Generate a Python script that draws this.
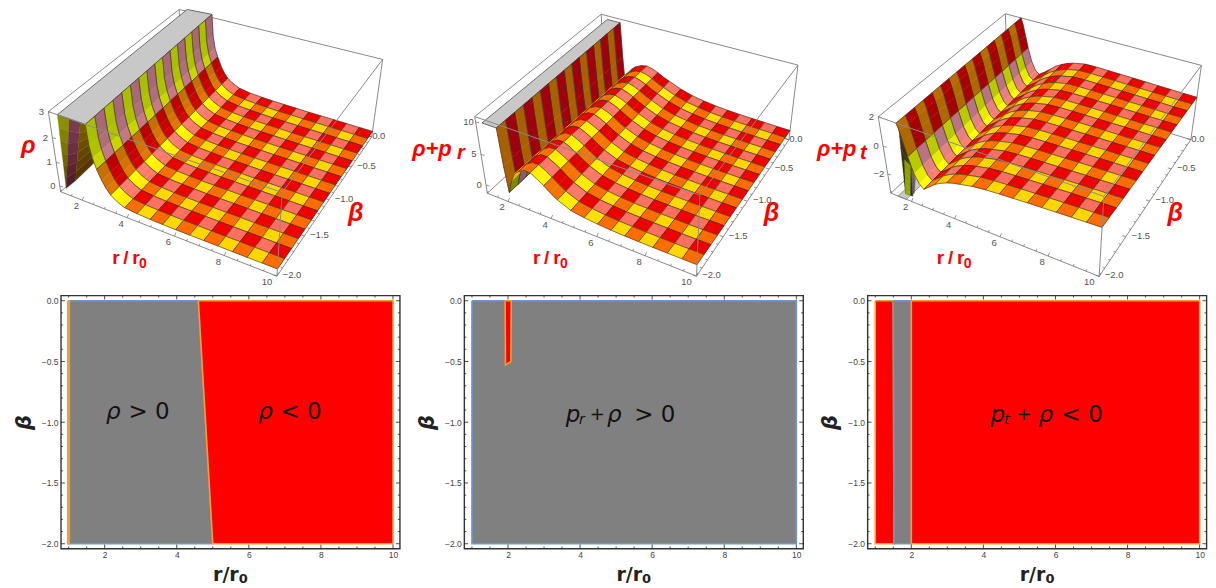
import bisect
import numpy as np, pandas as pd, altair as alt

W, H_TOP, H_BOT = 339.5, 273, 253.5
LEFTS = [60.7, 464.2, 867.7]
TOP_ABS, BOT_ABS = 8, 281
FONT = "Liberation Sans"

# ---- readings of the 3D panels -------------------------------------------
P_R = [
 [2.58,2.63,2.72,2.85,3.02,3.18,3.35,3.54,3.73,3.93,4.45,5.0,5.52,6.0625,6.625,7.1875,7.75,8.3125,8.875,9.4375,10],
 [1.95,2.03,2.125,2.3125,2.5,2.6875,2.97,3.25,3.53,3.8125,4.09,4.375,4.9375,5.5,6.0625,6.625,7.1875,7.75,8.3125,8.875,9.4375,10],
 [1.8,1.9,2.0,2.125,2.3125,2.5,2.6875,2.97,3.25,3.53,3.8125,4.09,4.375,4.9375,5.5,6.0625,6.625,7.1875,7.75,8.3125,8.875,9.4375,10],
]
P_ZF = [
 [3.0,2.2,1.75,1.34,0.95,0.68,0.47,0.33,0.23,0.15,0.1,0.07,0.06,0.05,0.05,0.05,0.05,0.05,0.05,0.05,0.05],
 [10.2,4.5,0.3,2.4,3.8,4.4,5.0,5.0,4.4,3.7,2.9,2.2,1.3,0.95,0.75,0.62,0.54,0.5,0.48,0.46,0.45,0.45],
 [2.0,1.5,0.8,-0.1,-1.2,-1.8,-2.1,-1.75,-1.4,-1.15,-0.95,-0.8,-0.7,-0.5,-0.4,-0.33,-0.27,-0.22,-0.17,-0.12,-0.08,-0.04,0.0],
]
P_ZB = [
 [3.0,2.1,1.6,1.25,0.88,0.62,0.44,0.3,0.22,0.14,0.07,0.04,0.02,0.01,0.01,0.0,0.0,0.0,0.0,0.0,0.0],
 [10.2,4.5,-0.3,1.9,2.9,3.4,3.9,4.1,3.9,3.5,3.0,2.6,1.8,1.25,0.9,0.65,0.5,0.4,0.33,0.28,0.24,0.2],
 [2.0,1.5,0.8,-0.1,-1.1,-1.7,-1.9,-1.6,-1.25,-0.9,-0.65,-0.45,-0.3,-0.12,-0.1,-0.12,-0.14,-0.16,-0.18,-0.2,-0.22,-0.24,-0.25],
]
# mesh lines along r as read on each surface
UNIFORM_MESH = [1,1.5625,2.125,2.6875,3.25,3.8125,4.375,4.9375,5.5,6.0625,6.625,7.1875,7.75,8.3125,8.875,9.4375,10]
P_MESH = [
 [1,1.5625,2.125,2.85,3.35,3.93,4.45,5.0,5.52,6.0625,6.625,7.1875,7.75,8.3125,8.875,9.4375,10],
 UNIFORM_MESH,
 UNIFORM_MESH,
]
Z_RANGE = [(-0.25,3.0),(-1.4,10.8),(-3.45,2.0)]
# box corners on screen: A r=1,b=-2 / B r=10,b=-2 / C r=10,b=0 / D r=1,b=0 ; bottom then top
CORNERS = [
 dict(Ab=(59.3,190),Bb=(278.3,275),Cb=(373,137),At=(47.7,111.7),Bt=(283.3,191.7),Ct=(381.7,56.7),Dt=(180,4)),
 dict(Ab=(486,191.7),Bb=(696.7,274),Cb=(790,140),At=(474.3,116.7),Bt=(701.7,195),Ct=(796.7,61.7),Dt=(602.3,12.7)),
 dict(Ab=(890,191.7),Bb=(1100.7,274),Cb=(1192,140),At=(878.3,116.7),Bt=(1105,196.7),Ct=(1200.7,61.7),Dt=(1006.7,12.3)),
]
# positions of axis ticks read on screen: (r, beta, x, y) on the floor
AXIS_POINTS = [
 [(2,-2,83,199.5),(4,-2,128,216),(6,-2,173,234),(10,-1,328,199)],
 [(2,-2,509,200),(4,-2,552,217),(6,-2,596,235),(10,-1,748,201)],
 [(2,-2,912,200),(4,-2,955,217),(6,-2,1000,235),(10,-1,1150,201)],
]
# grey clipped plate: r range and z level
PLATE = [(1.39,2.58,3.0),(1.3,1.95,10.2),None]
LOW_PLATE = [None,None,(1.35,1.75,-3.45,-1.7)]
# strips seen below the plate, in the plane beta=-2: corner (r,z) lists, colours top and bottom
STRIPS = [
 [([(1.39,3.0),(1.9,3.0),(1.3,0.01),(1.3,0.01)],"#8A9000","#5A3C00"),
  ([(1.9,3.0),(2.37,3.0),(1.8,0.51),(1.3,0.01)],"#7A3A50","#4A1820"),
  ([(2.37,3.0),(2.58,3.0),(2.76,1.57),(1.8,0.51)],"#7A5C00","#503000")],
 [],
 [([(1.9,2.0),(2.45,-0.3),(2.1,-3.0),(1.75,-3.0)],"#3A3A18","#1E1E10"),
  ([(1.95,-0.4),(2.2,-0.7),(1.98,-3.0),(1.75,-3.0)],"#8FA000","#9AB000"),
  ([(2.22,-1.0),(2.42,-1.0),(2.2,-2.7),(2.08,-2.9)],"#7A6878","#605060")],
]
Z_TICKS = [[0,1,2,3],[0,5,10],[-2,0,2]]
R_TICKS = [2,4,6,8,10]
B_TICKS = [-2.0,-1.5,-1.0,-0.5,0.0]
TS="\u2009"
BIG = [
 [("ρ",28,145,24,"italic","center"),("r"+TS+"/"+TS+"r",112,257,19,"normal","left"),("0",139,263,14,"normal","left"),("β",356,212,25,"italic","center")],
 [("ρ+p",412,148,22,"italic","left"),("r",457,152,20,"italic","left"),("r"+TS+"/"+TS+"r",533,257,19,"normal","left"),("0",560,263,14,"normal","left"),("β",772,212,25,"italic","center")],
 [("ρ+p",817,148,22,"italic","left"),("t",860,152,20,"italic","left"),("r"+TS+"/"+TS+"r",937,257,19,"normal","left"),("0",964,263,14,"normal","left"),("β",1176,212,25,"italic","center")],
]
BASE = {"S":[-8,-4,0,2,6,10,30],
 0:["#788C00","#FFC000","#FFD700","#FFFF00","#E0E800","#B0C400","#A8C000"],
 1:["#A06000","#FF8C00","#FF6C00","#F07800","#C87000","#B06800","#A86000"],
 2:["#8A5C70","#FF7060","#FF7060","#FF8070","#E08088","#B07080","#A86878"],
 3:["#A00000","#F00000","#F00000","#E00000","#C00000","#A80000","#A00010"],
}

def camera(c, zr, extra):
    pts = [((0,0,0),c["Ab"]),((1,0,0),c["Bb"]),((1,1,0),c["Cb"]),((0,0,1),c["At"]),((1,0,1),c["Bt"]),((1,1,1),c["Ct"]),((0,1,1),c["Dt"])]
    for r,b,x,y in extra:
        pts.append((((r-1)/9,(b+2)/2,0),(x,y)))
    A, B = [], []
    for (u,v,w),(x,y) in pts:
        A.append([u,v,w,1,0,0,0,0,-x*u,-x*v,-x*w]); B.append(x)
        A.append([0,0,0,0,u,v,w,1,-y*u,-y*v,-y*w]); B.append(y)
    m = np.linalg.lstsq(np.array(A,float),np.array(B,float),rcond=None)[0]
    M = np.append(m,1).reshape(3,4)
    def proj(r,beta,z):
        p = M @ np.array([(r-1)/9,(beta+2)/2,(z-zr[0])/(zr[1]-zr[0]),1.0])
        return float(p[0]/p[2]),float(p[1]/p[2])
    return proj

def hexmix(a,b,t):
    ca=[int(a[i:i+2],16) for i in (1,3,5)]; cb=[int(b[i:i+2],16) for i in (1,3,5)]
    return "#%02X%02X%02X"%tuple(int(round(x+(y-x)*t)) for x,y in zip(ca,cb))

def shade(k,S):
    xs=BASE["S"]; cs=BASE[k]
    if S<=xs[0]: return cs[0]
    if S>=xs[-1]: return cs[-1]
    for n in range(len(xs)-1):
        if xs[n]<=S<=xs[n+1]:
            return hexmix(cs[n],cs[n+1],(S-xs[n])/(xs[n+1]-xs[n]))

def build_top(p):
    zr=Z_RANGE[p]; proj=camera(CORNERS[p],zr,AXIS_POINTS[p]); rs=P_R[p]; zf=P_ZF[p]; zb=P_ZB[p]
    rows=[]; gid=[0]
    def add(pts,fill,stroke,w):
        gid[0]+=1
        for o,(x,y) in enumerate(pts):
            rows.append(dict(x=round(x,1),y=round(y,1),o=o,g=gid[0],f=fill,s=stroke,w=w))
    A=(1,-2);B=(10,-2);C=(10,0);D=(1,0)
    line="#8A8A8A"
    def edge(a,za,b,zb_):
        add([proj(a[0],a[1],za),proj(b[0],b[1],zb_)],"transparent",line,1.0)
    z0,z1=zr
    for a,za,b,zb_ in [(A,z1,D,z1),(D,z1,C,z1),(A,z0,A,z1),(C,z0,C,z1),(D,z0,D,z1),(A,z0,D,z0),(D,z0,C,z0),(A,z0,B,z0),(B,z0,C,z0)]:
        edge(a,za,b,zb_)
    for v in np.arange(1,10.01,0.5):
        a=proj(v,-2,z0); L=3.5 if abs(v%2)<1e-6 else 2
        add([a,(a[0]+0.4*L,a[1]-L)],"transparent","#666666",0.7)
    for v in np.arange(-2,0.01,0.1):
        a=proj(10,v,z0); L=3.5 if abs((v*2)%1)<1e-6 else 2
        add([a,(a[0]-L,a[1]-0.3*L)],"transparent","#666666",0.7)
    for v in Z_TICKS[p]:
        a=proj(1,-2,v); add([a,(a[0]+3.5,a[1]+1)],"transparent","#666666",0.7)
    if LOW_PLATE[p]:
        a,b,zz,bb=LOW_PLATE[p]
        add([proj(a,-2,zz),proj(b,-2,zz),proj(b,bb,zz),proj(a,bb,zz),proj(a,-2,zz)],"#C8C8C8","#444444",0.5)
    def Z(n,b):
        return zf[n]+(b+2)/2*(zb[n]-zf[n])
    cell_map={}
    for n in range(len(rs)-1):
        i=bisect.bisect_right(P_MESH[p],(rs[n]+rs[n+1])/2)-1
        cell_map.setdefault(i,[]).append(n)
    for quad,ct,cb in STRIPS[p]:
        (a0,b0),(a1,b1),(a2,b2),(a3,b3)=quad
        for m in range(6):
            t0,t1=m/6,(m+1)/6
            q=[(a0+(a3-a0)*t0,b0+(b3-b0)*t0),(a1+(a2-a1)*t0,b1+(b2-b1)*t0),
               (a1+(a2-a1)*t1,b1+(b2-b1)*t1),(a0+(a3-a0)*t1,b0+(b3-b0)*t1)]
            col=hexmix(ct,cb,t0)
            pp=[proj(r,-2,z) for r,z in q]
            add(pp+[pp[0]],col,col,0.3)
    if PLATE[p]:
        a,b,zz=PLATE[p]
        pp=[proj(a,-2,zz),proj(b,-2,zz),proj(b,0,zz),proj(a,0,zz)]
        add(pp+[pp[0]],"#C8C8C8","#3A3A3A",0.7)
    for i in sorted(cell_map):
        ns=cell_map[i]
        for j in range(15,-1,-1):
            b0=-2+j*0.125; b1=b0+0.125
            k=(0 if i%2==0 else 1) if j%2==0 else (2 if i%2==0 else 3)
            for n in ns:
                S=-((zf[n+1]+zb[n+1])/2-(zf[n]+zb[n])/2)/(zr[1]-zr[0])/((rs[n+1]-rs[n])/9)
                col=shade(k,S)
                pp=[proj(rs[n],b0,Z(n,b0)),proj(rs[n+1],b0,Z(n+1,b0)),proj(rs[n+1],b1,Z(n+1,b1)),proj(rs[n],b1,Z(n,b1))]
                add(pp+[pp[0]],col,col,0.4)
            low=[proj(rs[n],b0,Z(n,b0)) for n in ns]+[proj(rs[ns[-1]+1],b0,Z(ns[-1]+1,b0))]
            high=[proj(rs[ns[-1]+1],b1,Z(ns[-1]+1,b1))]+[proj(rs[n],b1,Z(n,b1)) for n in reversed(ns)]
            add(low+high+[low[0]],"transparent","#3A2A20",0.6)
    for a,za,b,zb_ in [(A,z1,B,z1),(B,z1,C,z1),(B,z0,B,z1)]:
        edge(a,za,b,zb_)
    txt=[]
    for v in R_TICKS:
        a=proj(v,-2,z0); txt.append(dict(x=a[0]-6 if v<10 else a[0]-10,y=a[1]+6,t=str(v)))
    for v in B_TICKS:
        a=proj(10,v,z0); txt.append(dict(x=a[0]+15 if v<0 else a[0]+7,y=a[1]-1,t=("−%.1f"%abs(v)) if v<0 else "0.0"))
    for v in Z_TICKS[p]:
        a=proj(1,-2,v); txt.append(dict(x=a[0]-7 if v>=0 else a[0]-9,y=a[1],t=("−%d"%abs(v)) if v<0 else str(v)))
    return pd.DataFrame(rows),pd.DataFrame(txt)

def top_panel(p):
    df,txt=build_top(p)
    L=LEFTS[p]
    X=alt.X("x:Q",scale=alt.Scale(domain=[L,L+W],nice=False,zero=False),axis=None)
    Y=alt.Y("y:Q",scale=alt.Scale(domain=[BOT_ABS,TOP_ABS],nice=False,zero=False,clamp=True),axis=None)
    surf=alt.Chart(df).mark_line(strokeJoin="round").encode(x=X,y=Y,detail="g:N",order="o:Q",
        fill=alt.Fill("f:N",scale=None),stroke=alt.Stroke("s:N",scale=None),strokeWidth=alt.StrokeWidth("w:Q",scale=None))
    ticks=alt.Chart(txt).mark_text(font=FONT,fontSize=9.5,color="#555555").encode(x=X,y=Y,text="t:N")
    layers=[surf,ticks]
    big=pd.DataFrame([dict(t=a,x=b,y=c,s=d,st=e,al=f) for a,b,c,d,e,f in BIG[p]])
    for (st,al),g in big.groupby(["st","al"]):
        layers.append(alt.Chart(g).mark_text(font=FONT,fontWeight="bold",fontStyle=st,align=al,color="#FF0000").encode(
            x=X,y=Y,text="t:N",size=alt.Size("s:Q",scale=None)))
    return alt.layer(*layers).properties(width=W,height=H_TOP,view=alt.ViewConfig(stroke=None))

REGIONS=[
 [("grey",[(1,0),(4.6,0),(5,-2),(1,-2)]),("red",[(4.6,0),(10,0),(10,-2),(5,-2)]),("red",[(0.98,0),(1.02,0),(1.02,-2),(0.98,-2)])],
 [("grey",[(1,0),(10,0),(10,-2),(1,-2)]),("red",[(1.92,0),(2.09,0),(2.08,-0.5),(1.93,-0.53)])],
 [("red",[(1,0),(1.5,0),(1.52,-2),(1,-2)]),("grey",[(1.5,0),(2,0),(2,-2),(1.52,-2)]),("red",[(2,0),(10,0),(10,-2),(2,-2)])],
]
LABELS=[
 [("ρ",2.04,-0.92,23,"italic"),("> 0",2.66,-0.92,23,"normal"),("ρ",6.26,-0.92,23,"italic"),("< 0",6.88,-0.92,23,"normal")],
 [("p",3.6,-0.94,23,"italic"),("r",3.97,-0.98,14,"italic"),("+",4.27,-0.94,18,"normal"),("ρ",4.75,-0.94,23,"italic"),("> 0",5.5,-0.94,23,"normal")],
 [("p",4.2,-0.94,23,"italic"),("t",4.58,-0.98,14,"italic"),("+",4.92,-0.94,18,"normal"),("ρ",5.53,-0.94,23,"italic"),("< 0",6.17,-0.94,23,"normal")],
]
FILL={"grey":("#808080","#6F97CC"),"red":("#FF0000","#EDA02C")}
MAJ_R=[2,4,6,8,10]; MIN_R=[1,1.5,2.5,3,3.5,4.5,5,5.5,6.5,7,7.5,8.5,9,9.5]
MAJ_B=[-2,-1.5,-1,-0.5,0]; MIN_B=[v/10 for v in range(-20,1) if v%5]
SUB_R=5.72

def bot_panel(p):
    rows=[]
    for g,(kind,poly) in enumerate(REGIONS[p]):
        f,s=FILL[kind]
        for o,(r,b) in enumerate(poly+[poly[0]]):
            rows.append(dict(r=r,b=b,o=o,g=g,f=f,s=s))
    df=pd.DataFrame(rows)
    X=alt.X("r:Q",scale=alt.Scale(domain=[0.786,10.19],nice=False,zero=False),
        axis=alt.Axis(values=MAJ_R,ticks=False,domain=False,grid=False,labelFont=FONT,labelFontSize=8.5,labelColor="#444444",labelPadding=2,
                      title="r/r",titleX=W/2-5,titleFont="DejaVu Sans",titleFontSize=19,titleFontWeight="bold",titleColor="#222222",titlePadding=6))
    Y=alt.Y("b:Q",scale=alt.Scale(domain=[-2.04,0.043],nice=False,zero=False),
        axis=alt.Axis(values=MAJ_B,format=".1f",ticks=False,domain=False,grid=False,labelFont=FONT,labelFontSize=8.5,labelColor="#444444",labelPadding=3,
                      title="β",titleFont="DejaVu Sans",titleFontSize=21,titleFontWeight="bold",titleFontStyle="italic",titleColor="#222222",titlePadding=7))
    reg=alt.Chart(df).mark_line(strokeWidth=1.6,strokeJoin="miter").encode(x=X,y=Y,detail="g:N",order="o:Q",
        fill=alt.Fill("f:N",scale=None),stroke=alt.Stroke("s:N",scale=None))
    layers=[reg]
    for vals,L in [(MAJ_R,4),(MIN_R,2)]:
        d=pd.DataFrame({"r":vals})
        layers.append(alt.Chart(d).mark_rule(color="#222222",strokeWidth=0.8).encode(x=X,y=alt.value(H_BOT),y2=alt.value(H_BOT-L)))
        layers.append(alt.Chart(d).mark_rule(color="#222222",strokeWidth=0.8).encode(x=X,y=alt.value(0),y2=alt.value(L)))
    for vals,L in [(MAJ_B,4),(MIN_B,2)]:
        d=pd.DataFrame({"b":vals})
        layers.append(alt.Chart(d).mark_rule(color="#222222",strokeWidth=0.8).encode(y=Y,x=alt.value(0),x2=alt.value(L)))
        layers.append(alt.Chart(d).mark_rule(color="#222222",strokeWidth=0.8).encode(y=Y,x=alt.value(W),x2=alt.value(W-L)))
    lab=pd.DataFrame([dict(t=a,r=b,b=c,s=d,st=e) for a,b,c,d,e in LABELS[p]])
    for st,g in lab.groupby("st"):
        layers.append(alt.Chart(g).mark_text(font="DejaVu Sans",fontStyle=st,align="left",color="#111111").encode(
            x=X,y=Y,text="t:N",size=alt.Size("s:Q",scale=None)))
    sub=pd.DataFrame({"r":[SUB_R],"t":["0"]})
    layers.append(alt.Chart(sub).mark_text(font="DejaVu Sans",fontWeight="bold",fontSize=13,align="left",color="#222222").encode(
        x=X,y=alt.value(H_BOT+30),text="t:N"))
    return alt.layer(*layers).properties(width=W,height=H_BOT,view=alt.ViewConfig(stroke="#333333",strokeWidth=1.4))

panels=[top_panel(p) for p in range(3)]+[bot_panel(p) for p in range(3)]
chart=alt.concat(*panels,columns=3,spacing={"row":13.5,"column":64},bounds="flush").properties(padding={"left":4,"top":0,"right":0,"bottom":0})
chart.save("out.html",embed_options={"renderer":"svg","actions":False})
